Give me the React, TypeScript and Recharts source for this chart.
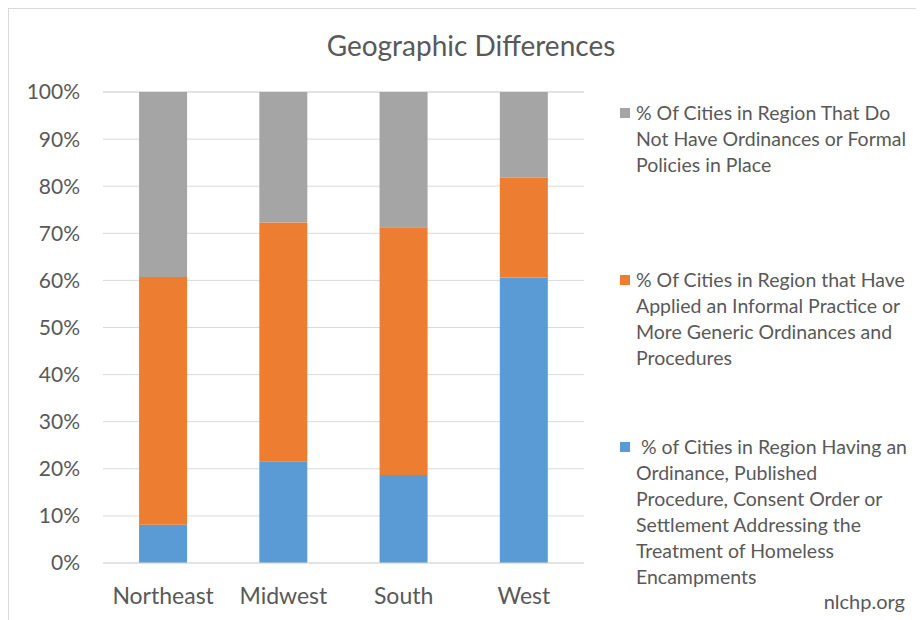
import { BarChart, Bar, XAxis, YAxis, CartesianGrid, Legend } from 'recharts';

const regions = ['Northeast', 'Midwest', 'South', 'West'];
const withOrdinance = [8.1, 21.6, 18.7, 60.6];
const informalPractice = [52.6, 50.7, 52.6, 21.2];
const noPolicy = [39.3, 27.7, 28.7, 18.2];
const yTicks = [0, 10, 20, 30, 40, 50, 60, 70, 80, 90, 100];

const ordinanceLines = [
  ' % of Cities in Region Having an',
  'Ordinance, Published',
  'Procedure, Consent Order or',
  'Settlement Addressing the',
  'Treatment of Homeless',
  'Encampments',
];
const informalLines = [
  '% Of Cities in Region that Have',
  'Applied an Informal Practice or',
  'More Generic Ordinances and',
  'Procedures',
];
const noPolicyLines = [
  '% Of Cities in Region That Do',
  'Not Have Ordinances or Formal',
  'Policies in Place',
];

const BLUE = '#5B9BD5';
const ORANGE = '#ED7D31';
const GRAY = '#A5A5A5';
const TEXT = '#595959';
const FONT = 'Lato, "Open Sans", sans-serif';

const data = regions.map((region, i) => ({
  region,
  ordinance: withOrdinance[i],
  informal: informalPractice[i],
  none: noPolicy[i],
}));

// legend is listed top to bottom, reverse of stack order
const legendItems = [
  { color: GRAY, lines: noPolicyLines },
  { color: ORANGE, lines: informalLines },
  { color: BLUE, lines: ordinanceLines },
];

function ChartLegend() {
  return (
    <div style={{ fontFamily: FONT, fontSize: 19.5, color: TEXT, lineHeight: '26px' }}>
      {legendItems.map((item, i) => (
        <div key={i} style={{ position: 'absolute', top: i * 167, left: 0, whiteSpace: 'pre' }}>
          <span
            style={{
              position: 'absolute',
              left: 0,
              top: 8,
              width: 10,
              height: 10,
              background: item.color,
            }}
          />
          <div style={{ marginLeft: 16 }}>
            {item.lines.map((l, j) => (
              <div key={j}>{l}</div>
            ))}
          </div>
        </div>
      ))}
    </div>
  );
}

export default function App() {
  return (
    <div
      style={{
        position: 'relative',
        width: 915,
        height: 611,
        borderTop: '1px solid #d9d9d9',
        borderLeft: '1px solid #d9d9d9',
        fontFamily: FONT,
        background: '#fff',
      }}
    >
      <div
        style={{
          position: 'absolute',
          left: 212,
          width: 500,
          top: 20,
          lineHeight: '32px',
          textAlign: 'center',
          fontSize: 28,
          color: TEXT,
        }}
      >
        Geographic Differences
      </div>
      <BarChart
        width={915}
        height={611}
        data={data}
        barCategoryGap="30%"
        margin={{ top: 83, right: 340, bottom: 7, left: 0 }}
      >
        <CartesianGrid vertical={false} stroke="#d9d9d9" />
        <XAxis
          dataKey="region"
          height={50}
          axisLine={{ stroke: '#d9d9d9' }}
          tickLine={false}
          tickMargin={19}
          interval={0}
          tick={{ fill: TEXT, fontSize: 23, fontFamily: FONT }}
        />
        <YAxis
          width={94}
          domain={[0, 100]}
          ticks={yTicks}
          tickFormatter={(v) => `${v}%`}
          axisLine={false}
          tickLine={false}
          tickMargin={17}
          tick={{ fill: TEXT, fontSize: 21, fontFamily: FONT }}
        />
        <Legend
          layout="vertical"
          verticalAlign="middle"
          align="center"
          wrapperStyle={{ left: 611, top: 91, width: 300, height: 480 }}
          content={() => <ChartLegend />}
        />
        <Bar dataKey="ordinance" name={ordinanceLines.join(' ')} stackId="a" fill={BLUE} isAnimationActive={false} />
        <Bar dataKey="informal" name={informalLines.join(' ')} stackId="a" fill={ORANGE} isAnimationActive={false} />
        <Bar dataKey="none" name={noPolicyLines.join(' ')} stackId="a" fill={GRAY} isAnimationActive={false} />
      </BarChart>
      <div
        style={{
          position: 'absolute',
          right: 19,
          top: 580,
          lineHeight: '24px',
          fontSize: 20,
          color: TEXT,
        }}
      >
        nlchp.org
      </div>
    </div>
  );
}
